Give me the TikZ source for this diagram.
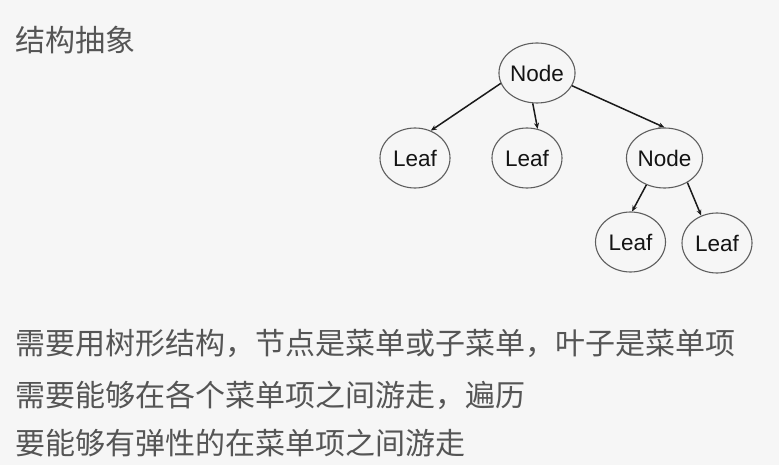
\documentclass[tikz,border=0pt]{standalone}
\usepackage{fontspec}
\setmainfont{Liberation Sans}
\newfontfamily\cjk{Noto Sans CJK SC}
\usetikzlibrary{shapes.geometric,arrows.meta}
\definecolor{bgc}{HTML}{F6F6F6}
\definecolor{txtc}{HTML}{555555}
\definecolor{edgec}{HTML}{5E5E5E}
\definecolor{arrc}{HTML}{1A1A1A}
\tikzset{
  treenode/.style={ellipse, draw=edgec, line width=1.1pt, minimum width=70pt, minimum height=60pt, inner sep=0pt, font=\fontsize{22.5}{24}\selectfont, text=black!92},
  link/.style={draw=arrc, line width=1.5pt, -{Stealth[length=6pt,width=5pt]}},
  cjktext/.style={anchor=base west, inner sep=0pt, text=txtc, font=\cjk\fontsize{30}{32}\selectfont}
}
\begin{document}
\begin{tikzpicture}[x=1pt,y=-1pt]
\fill[bgc] (0,0) rectangle (779,465);
\useasboundingbox (0,0) rectangle (779,465);
\node[cjktext] (title) at (15,51.5) {结构抽象};
\node[treenode] (root) at (537,73) {Node};
\node[treenode] (l1) at (415,158) {Leaf};
\node[treenode] (l2) at (527,158) {Leaf};
\node[treenode] (n2) at (664.5,158) {Node};
\node[treenode] (l3) at (630.5,242) {Leaf};
\node[treenode] (l4) at (717,243) {Leaf};
\draw[link] (root.196) -- (l1.60);
\draw[link] (root.262) -- (l2.70);
\draw[link] (root.-20) -- (n2.90);
\draw[link] (n2.-124) -- (l3.87);
\draw[link] (n2.-47) -- (l4.120);
\node[cjktext] (line1) at (15,354) {需要用树形结构，节点是菜单或子菜单，叶子是菜单项};
\node[cjktext] (line2) at (15,406.5) {需要能够在各个菜单项之间游走，遍历};
\node[cjktext] (line3) at (15,454.5) {要能够有弹性的在菜单项之间游走};
\end{tikzpicture}
\end{document}
